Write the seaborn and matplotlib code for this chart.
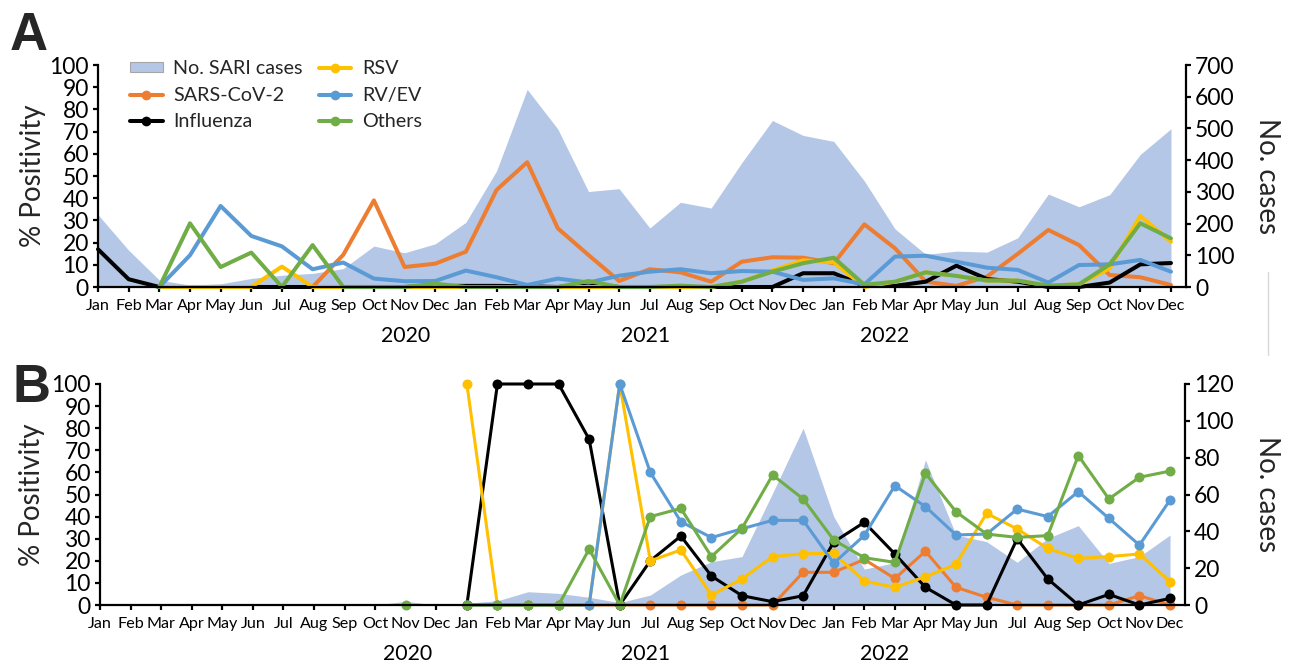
import matplotlib
matplotlib.use("Agg")
import matplotlib.pyplot as plt
import matplotlib.transforms as mtransforms
from matplotlib.lines import Line2D
from matplotlib.patches import Patch
import numpy as np
import pandas as pd
import seaborn as sns

sns.set_theme(style="ticks")
plt.rcParams['font.family'] = ['Lato', 'DejaVu Sans']

# ---- categories -----------------------------------------------------------
month_names = ['Jan', 'Feb', 'Mar', 'Apr', 'May', 'Jun',
               'Jul', 'Aug', 'Sep', 'Oct', 'Nov', 'Dec'] * 3
year_labels = ['2020', '2021', '2022']
series_names = ['SARS-CoV-2', 'Influenza', 'RSV', 'RV/EV', 'Others']
area_name = 'No. SARI cases'

N = None

# ---- panel A: % positivity and SARI case counts ---------------------------
sari_a = [228, 116, 22, 6, 10, 27, 37, 43, 58, 129, 108, 136,
          204, 366, 623, 498, 301, 310, 186, 267, 249, 392, 525, 478,
          459, 334, 183, 103, 113, 110, 155, 293, 253, 291, 418, 499]
sars_a = [N, N, N, N, N, N, N, 0, 14.5, 39, 9, 10.5,
          15.9, 43.7, 56.2, 26.4, 14.4, 2.7, 8, 6.6, 2.4, 11.4, 13.4, 13.2,
          10.7, 28.2, 17.4, 2.4, 0.5, 4.7, 14.9, 25.7, 18.9, 5.4, 4.4, 0.9]
flu_a = [17, 3.5, 0, 0, 0, 0, 0, 0, 0, 0, 0, 0.5,
         0.5, 0.5, 0.3, 0, 1, 0, 0, 0, 0, 0, 0, 6.2,
         6.2, 0.5, 0.5, 2.4, 9.6, 3.6, 2.4, 0, 0, 2, 10.2, 10.8]
rsv_a = [N, N, 0, 0, 0, 0, 9.2, 0, 0, 0, 0, 0,
         0, 0, 0, 0, 0, 0, 0, 0, 0, 2.4, 7.5, 12,
         11.1, 0, 2.4, 6.6, 5, 2.9, 2.9, 0.6, 1.2, 8.4, 32, 20.4]
rv_a = [N, N, 0, 14.3, 36.5, 23, 18.3, 8, 11, 3.8, 2.6, 2.7,
        7.4, 4.4, 0.9, 3.8, 2, 5.1, 6.9, 8, 6.2, 7.2, 6.9, 3.2,
        3.9, 1.2, 13.7, 14.1, 11.4, 8.7, 7.7, 2, 9.9, 10.2, 12.2, 6.9]
others_a = [N, N, 0, 28.7, 9, 15.5, 0, 18.9, 0, 0, 0, 1.5,
            0, 0, 0, 0, 2.7, 0, 0, 0.6, 0, 2.4, 6.9, 10.7,
            13.2, 1, 2.4, 6.6, 5, 2.9, 2.9, 0.6, 1.2, 10.2, 28.7, 21.9]

# ---- panel B: % positivity and SARI case counts ---------------------------
sari_b = [0, 0, 0, 0, 0, 0, 0, 0, 0, 0, 2, 0,
          1, 2.3, 7.2, 6.3, 4.2, 1.3, 5.4, 16.3, 23.5, 26.3, 60.7, 96,
          48, 19.5, 23, 78.8, 38, 34.4, 23.2, 36.2, 43.1, 22.6, 26.3, 38]
sars_b = [N] * 12 + [0, 0, 0, 0, 0, 0, 0, 0, 0, 0, 0, 14.8,
                     14.8, 20.6, 12, 24.3, 8, 3.5, 0, 0, 0, 0, 4.2, 0]
flu_b = [N] * 12 + [0, 100, 100, 100, 75, 0, 20, 31.2, 13.1, 4.2, 1.5, 4.2,
                    28.5, 37.4, 23.1, 8, 0, 0, 30, 11.8, 0, 4.8, 0, 3]
rsv_b = [N] * 12 + [100, 0, 0, 0, 0, 100, 20, 24.9, 4.5, 11.8, 21.9, 23.2,
                    23.4, 10.8, 8, 12.8, 18.4, 41.5, 34.4, 25.6, 21.1, 21.9, 23.1, 10.6]
rv_b = [N] * 12 + [0, 0, 0, 0, 0, 100, 60, 37.7, 30.5, 34.5, 38.3, 38.3,
                   18.9, 31.5, 54, 44.5, 31.7, 32.1, 43.4, 40, 51.3, 39.2, 27.1, 47.5]
others_b = [N] * 10 + [0, N] + [0, 0, 0, 0, 25.3, 0, 40, 43.7, 21.9, 34.7, 58.8, 48,
                                29.4, 21.4, 19.3, 59.6, 42.2, 32.1, 30.6, 31.4, 67.6, 48, 57.8, 60.6]

colors = {'SARS-CoV-2': '#ED7D31', 'Influenza': '#000000', 'RSV': '#FFC000',
          'RV/EV': '#5B9BD5', 'Others': '#70AD47'}
area_color = '#B4C7E7'
font_tick_x = 11.6
font_tick_y = 16.5
font_label = 20
font_year = 15.3
font_legend = 14.2


def runs(values):
    """Split a series into contiguous stretches of observed months."""
    out, cur = [], []
    for i, v in enumerate(values):
        if v is None:
            if cur:
                out.append(cur)
            cur = []
        else:
            cur.append((i, v))
    if cur:
        out.append(cur)
    return out


def draw_panel(ax, sari, series, cases_max, cases_step, with_markers, lw):
    ax2 = ax.twinx()
    x = np.arange(len(sari))
    ax2.fill_between(x, 0, sari, color=area_color, lw=0)
    ax2.set_ylim(0, cases_max)
    ax2.set_yticks(np.arange(0, cases_max + 1, cases_step))
    ax.set_zorder(ax2.get_zorder() + 1)
    ax.patch.set_visible(False)

    for name, vals in zip(series_names, series):
        for seg in runs(vals):
            df = pd.DataFrame(seg, columns=['month', 'value'])
            sns.lineplot(data=df, x='month', y='value', ax=ax, color=colors[name],
                         lw=lw, marker='o' if with_markers else None,
                         markersize=7.2, markeredgewidth=0, clip_on=False,
                         errorbar=None, legend=False)

    ax.set_xlim(0, 35.49)
    ax.set_ylim(0, 100)
    ax.set_yticks(np.arange(0, 101, 10))
    ax.set_xticks(x)
    ax.set_xticklabels(month_names, fontsize=font_tick_x)
    ax.set_xlabel('')
    ax.set_ylabel('% Positivity', fontsize=font_label)
    ax.yaxis.label.set_va('center')
    ax2.set_ylabel('No. cases', fontsize=font_label, rotation=270)
    ax2.yaxis.label.set_va('center')

    for a in (ax, ax2):
        for s in a.spines.values():
            s.set_visible(False)
            s.set_color('black')
            s.set_linewidth(1.6)
    ax.spines['left'].set_visible(True)
    ax.spines['bottom'].set_visible(True)
    ax2.spines['right'].set_visible(True)

    ax.tick_params(axis='x', direction='out', length=3.6, width=1.6,
                   color='black', pad=5, labelcolor='black')
    ax.tick_params(axis='y', direction='out', length=3.6, width=1.6,
                   color='black', pad=3, labelsize=font_tick_y, labelcolor='black')
    ax2.tick_params(axis='y', direction='out', length=3.6, width=1.6,
                    color='black', pad=3, labelsize=font_tick_y, labelcolor='black')

    trans = mtransforms.blended_transform_factory(ax.transData, ax.transAxes)
    for pos, yr in zip([10.05, 17.85, 25.67], year_labels):
        ax.text(pos, -0.222, yr, transform=trans, ha='center', va='center',
                fontsize=font_year, color='black')
    return ax2


W, H = 1292, 663
fig = plt.figure(figsize=(W / 100, H / 100), dpi=100)
axA = fig.add_axes([98 / W, 1 - 287 / H, 1088 / W, 222 / H])
axB = fig.add_axes([100 / W, 1 - 605 / H, 1085 / W, 221 / H])

axA2 = draw_panel(axA, sari_a, [sars_a, flu_a, rsv_a, rv_a, others_a], 700, 100, False, 2.9)
axB2 = draw_panel(axB, sari_b, [sars_b, flu_b, rsv_b, rv_b, others_b], 120, 20, True, 2.2)

axA.yaxis.set_label_coords(-0.0597, 0.5)
axA2.yaxis.set_label_coords(1.0749, 0.5)
axB.yaxis.set_label_coords(-0.0631, 0.5)
axB2.yaxis.set_label_coords(1.076, 0.5)

# legend: area swatch plus marker lines, filled column by column
handles = [Patch(facecolor=area_color, edgecolor='#A6A6A6', lw=0.8)]
labels = [area_name]
for name in series_names:
    handles.append(Line2D([], [], color=colors[name], lw=2.9, marker='o',
                          markersize=7, markeredgewidth=0))
    labels.append(name)
axA.legend(handles, labels, ncol=2, loc='upper left', bbox_to_anchor=(0.0294, 1.022),
           frameon=False, fontsize=font_legend, handlelength=1.65, handletextpad=0.55,
           columnspacing=0.8, labelspacing=0.48, borderpad=0, borderaxespad=0,
           handleheight=0.4)

fig.text(10 / W, 1 - 50 / H, 'A', fontsize=38, fontweight='bold',
         family='Liberation Sans', va='baseline', ha='left')
fig.text(12 / W, 1 - 402 / H, 'B', fontsize=38, fontweight='bold',
         family='Liberation Sans', va='baseline', ha='left')

fig.add_artist(Line2D([1268 / W, 1268 / W], [1 - 272 / H, 1 - 355 / H],
                      transform=fig.transFigure, color='#D9D9D9', lw=1))

fig.savefig('out.png', dpi=100)
